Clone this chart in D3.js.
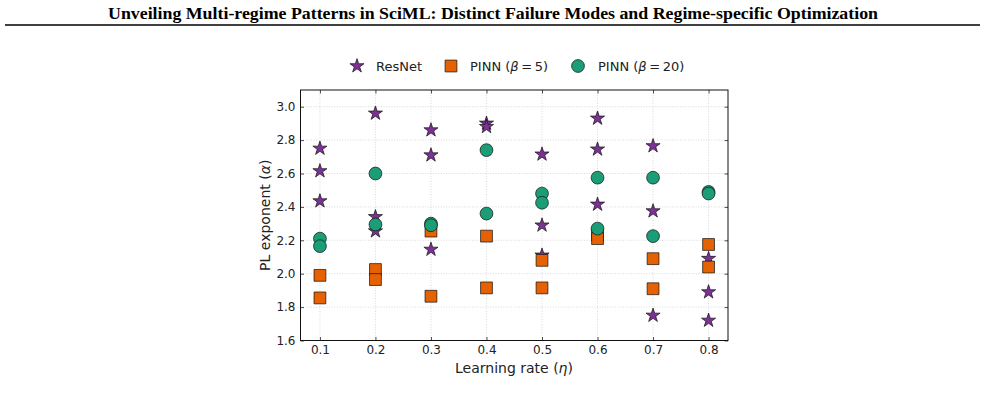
<!DOCTYPE html>
<html>
<head>
<meta charset="utf-8">
<script src="https://cdn.jsdelivr.net/npm/d3@7"></script>
<style>
  body { margin: 0; background: #fff; }
  svg { display: block; }
  .tick text { font-family: "DejaVu Sans", sans-serif; font-size: 12px; fill: #222; }
</style>
</head>
<body>
<svg id="chart"></svg>
<script>
// learning rate ticks
let etaTicks = [0.1, 0.2, 0.3, 0.4, 0.5, 0.6, 0.7, 0.8]
let alphaTicks = [1.6, 1.8, 2.0, 2.2, 2.4, 2.6, 2.8, 3.0]

// [learning rate, PL exponent]
let resnet = [
  [0.1, 2.75], [0.1, 2.615], [0.1, 2.435],
  [0.2, 2.96], [0.2, 2.34], [0.2, 2.255],
  [0.3, 2.86], [0.3, 2.71], [0.3, 2.145],
  [0.4, 2.90], [0.4, 2.88],
  [0.5, 2.715], [0.5, 2.29], [0.5, 2.11],
  [0.6, 2.93], [0.6, 2.745], [0.6, 2.415],
  [0.7, 2.765], [0.7, 2.375], [0.7, 1.75],
  [0.8, 2.09], [0.8, 1.89], [0.8, 1.72]
]
let pinn5 = [
  [0.1, 1.99], [0.1, 1.855],
  [0.2, 2.025], [0.2, 1.965],
  [0.3, 2.255], [0.3, 1.865],
  [0.4, 2.225], [0.4, 1.915],
  [0.5, 2.08], [0.5, 1.915],
  [0.6, 2.23], [0.6, 2.21],
  [0.7, 2.09], [0.7, 1.91],
  [0.8, 2.175], [0.8, 2.04]
]
let pinn20 = [
  [0.1, 2.21], [0.1, 2.165],
  [0.2, 2.60], [0.2, 2.295],
  [0.3, 2.30], [0.3, 2.29],
  [0.4, 2.74], [0.4, 2.36],
  [0.5, 2.48], [0.5, 2.425],
  [0.6, 2.575], [0.6, 2.27],
  [0.7, 2.575], [0.7, 2.225],
  [0.8, 2.49], [0.8, 2.48]
]

let width = 985
let height = 400
let plotLeft = 300.5, plotRight = 728, plotTop = 90, plotBottom = 340.5

let colors = { resnet: '#7b3294', pinn5: '#e66101', pinn20: '#1b9e77' }

let svg = d3.select('#chart').attr('width', width).attr('height', height)

// page header
svg.append('text')
  .attr('x', 493).attr('y', 18.5)
  .attr('text-anchor', 'middle')
  .attr('textLength', 770).attr('lengthAdjust', 'spacingAndGlyphs')
  .style('font-family', '"Liberation Serif", "Times New Roman", serif')
  .style('font-weight', 'bold')
  .style('font-size', '17px')
  .text('Unveiling Multi-regime Patterns in SciML: Distinct Failure Modes and Regime-specific Optimization')

svg.append('line')
  .attr('x1', 5).attr('x2', 980)
  .attr('y1', 25).attr('y2', 25)
  .attr('stroke', '#000').attr('stroke-width', 1.4)

let xScale = d3.scaleLinear().domain([0.065, 0.835]).range([plotLeft, plotRight])
let yScale = d3.scaleLinear().domain([1.6, 3.1]).range([plotBottom, plotTop])

// grid
let grid = svg.append('g')
grid.selectAll('.gx').data(etaTicks).enter().append('line')
  .attr('x1', d => xScale(d)).attr('x2', d => xScale(d))
  .attr('y1', plotTop).attr('y2', plotBottom)
  .attr('stroke', '#c8c8c8').attr('stroke-width', 0.7).attr('stroke-dasharray', '1,1.6')
grid.selectAll('.gy').data(alphaTicks).enter().append('line')
  .attr('x1', plotLeft).attr('x2', plotRight)
  .attr('y1', d => yScale(d)).attr('y2', d => yScale(d))
  .attr('stroke', '#c8c8c8').attr('stroke-width', 0.7).attr('stroke-dasharray', '1,1.6')

// axes with inward ticks on all sides
let fmt = d3.format('.1f')
let styleAxis = g => {
  g.select('.domain').remove()
  g.selectAll('.tick line').attr('stroke', '#222').attr('stroke-width', 0.8)
}
svg.append('g').attr('transform', `translate(0,${plotBottom})`)
  .call(d3.axisBottom(xScale).tickValues(etaTicks).tickFormat(fmt).tickSizeInner(-3.5).tickSizeOuter(0).tickPadding(5))
  .call(styleAxis)
svg.append('g').attr('transform', `translate(0,${plotTop})`)
  .call(d3.axisTop(xScale).tickValues(etaTicks).tickFormat('').tickSizeInner(-3.5).tickSizeOuter(0))
  .call(styleAxis)
svg.append('g').attr('transform', `translate(${plotLeft},0)`)
  .call(d3.axisLeft(yScale).tickValues(alphaTicks).tickFormat(fmt).tickSizeInner(-3.5).tickSizeOuter(0).tickPadding(5))
  .call(styleAxis)
svg.append('g').attr('transform', `translate(${plotRight},0)`)
  .call(d3.axisRight(yScale).tickValues(alphaTicks).tickFormat('').tickSizeInner(-3.5).tickSizeOuter(0))
  .call(styleAxis)

svg.append('rect')
  .attr('x', plotLeft).attr('y', plotTop)
  .attr('width', plotRight - plotLeft).attr('height', plotBottom - plotTop)
  .attr('fill', 'none').attr('stroke', '#111').attr('stroke-width', 1)

// markers
let star = d3.symbol().type(d3.symbolStar).size(62)
let square = d3.symbol().type(d3.symbolSquare).size(140)

svg.append('g').selectAll('path').data(resnet).enter().append('path')
  .attr('d', star)
  .attr('transform', d => `translate(${xScale(d[0])},${yScale(d[1])})`)
  .attr('fill', colors.resnet).attr('stroke', '#111').attr('stroke-width', 0.7)

svg.append('g').selectAll('path').data(pinn5).enter().append('path')
  .attr('d', square)
  .attr('transform', d => `translate(${xScale(d[0])},${yScale(d[1])})`)
  .attr('fill', colors.pinn5).attr('stroke', '#111').attr('stroke-width', 0.7)

svg.append('g').selectAll('circle').data(pinn20).enter().append('circle')
  .attr('cx', d => xScale(d[0])).attr('cy', d => yScale(d[1])).attr('r', 6.4)
  .attr('fill', colors.pinn20).attr('stroke', '#111').attr('stroke-width', 0.7)

// axis labels
let labelFont = '"DejaVu Sans", sans-serif'
let xl = svg.append('text')
  .attr('x', 514).attr('y', 373).attr('text-anchor', 'middle')
  .style('font-family', labelFont).style('font-size', '14px').attr('fill', '#222')
xl.append('tspan').text('Learning rate (')
xl.append('tspan').style('font-style', 'italic').text('η')
xl.append('tspan').text(')')

let yl = svg.append('text')
  .attr('transform', `translate(270,${(plotTop + plotBottom) / 2}) rotate(-90)`)
  .attr('text-anchor', 'middle')
  .style('font-family', labelFont).style('font-size', '14px').attr('fill', '#222')
yl.append('tspan').text('PL exponent (')
yl.append('tspan').style('font-style', 'italic').text('α')
yl.append('tspan').text(')')

// legend
let legendY = 66
let legend = svg.append('g')
  .style('font-family', labelFont).style('font-size', '13px')
legend.append('path').attr('d', star)
  .attr('transform', `translate(357,${legendY})`)
  .attr('fill', colors.resnet).attr('stroke', '#111').attr('stroke-width', 0.7)
legend.append('text').attr('x', 376).attr('y', legendY + 4.5).attr('fill', '#222').text('ResNet')

legend.append('path').attr('d', square)
  .attr('transform', `translate(451,${legendY})`)
  .attr('fill', colors.pinn5).attr('stroke', '#111').attr('stroke-width', 0.7)
let t5 = legend.append('text').attr('x', 470).attr('y', legendY + 4.5).attr('fill', '#222')
t5.append('tspan').text('PINN (')
t5.append('tspan').style('font-style', 'italic').text('β')
t5.append('tspan').text('\u2009=\u20095)')

legend.append('circle').attr('cx', 578).attr('cy', legendY).attr('r', 6.4)
  .attr('fill', colors.pinn20).attr('stroke', '#111').attr('stroke-width', 0.7)
let t20 = legend.append('text').attr('x', 598).attr('y', legendY + 4.5).attr('fill', '#222')
t20.append('tspan').text('PINN (')
t20.append('tspan').style('font-style', 'italic').text('β')
t20.append('tspan').text('\u2009=\u200920)')
</script>
</body>
</html>
